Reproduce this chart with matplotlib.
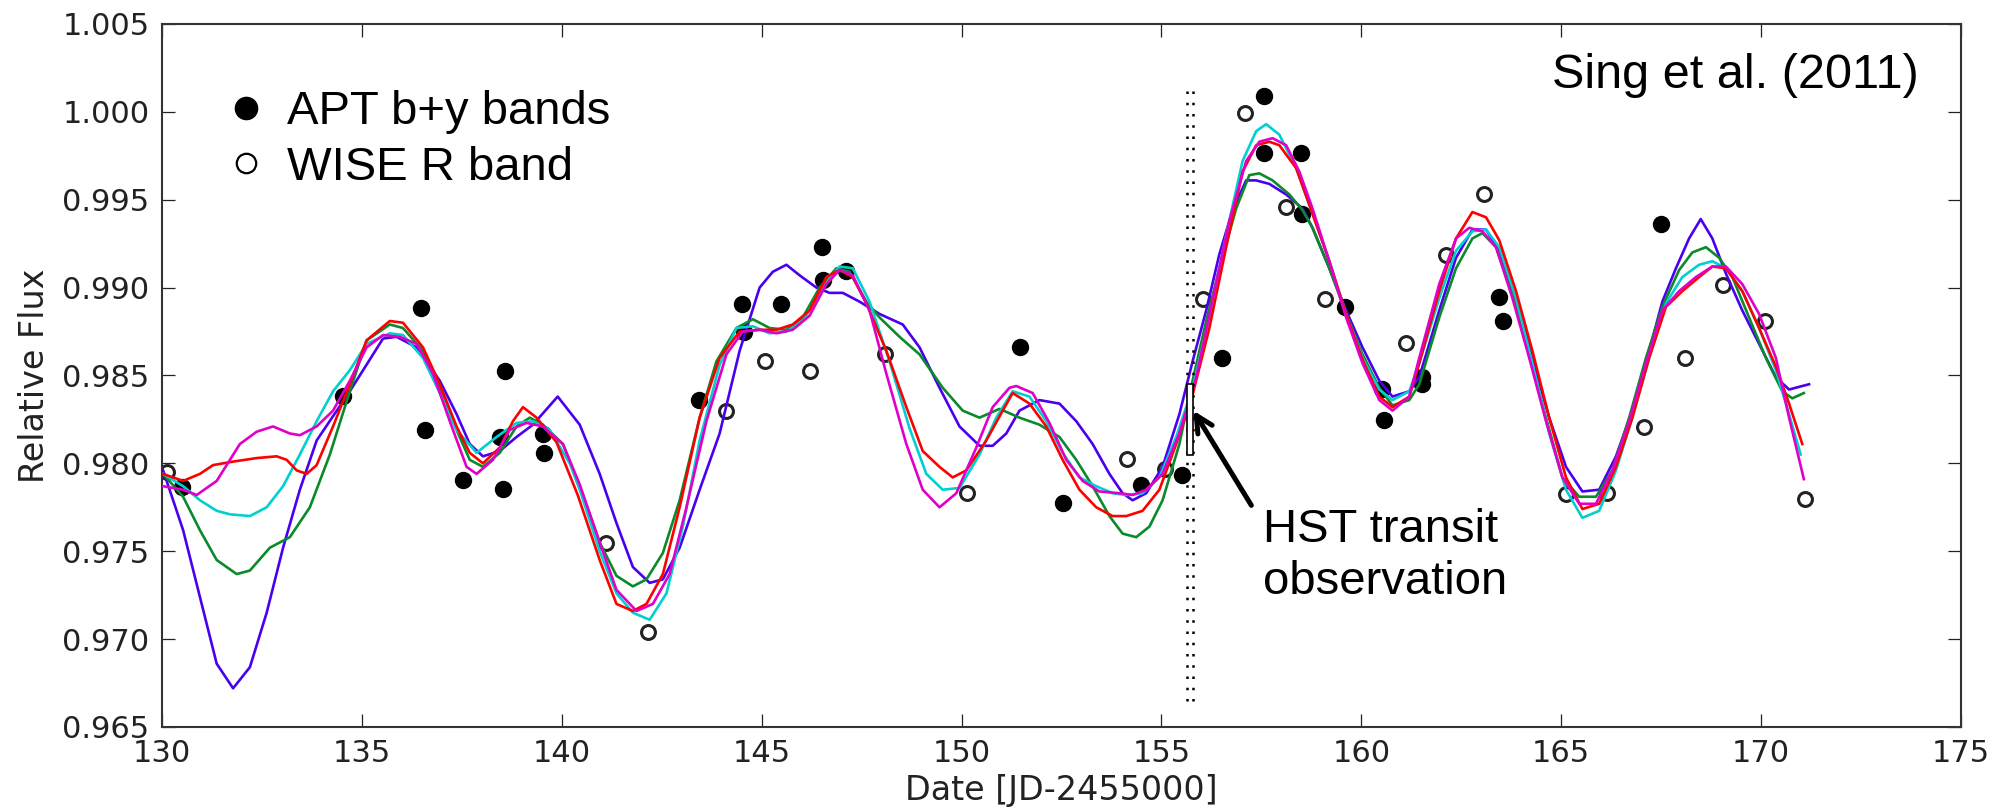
import matplotlib
matplotlib.use("Agg")
import matplotlib.pyplot as plt
from matplotlib.lines import Line2D
from matplotlib.patches import Rectangle

# ------------------------------------------
# Photometry
# ------------------------------------------
apt_x = [130.49, 134.53, 136.49, 136.58, 137.53, 138.45, 138.53, 138.58, 139.53, 139.56,
         143.43, 144.51, 144.56, 145.49, 146.51, 146.53, 147.12, 151.47, 152.53, 154.49,
         155.52, 156.51, 157.56, 157.56, 158.48, 158.51, 159.58, 160.51, 160.58, 161.53,
         161.53, 163.45, 163.55, 167.49]
apt_y = [0.97865, 0.98385, 0.98883, 0.98192, 0.97903, 0.98149, 0.97856, 0.98523, 0.98168, 0.98060,
         0.98361, 0.98906, 0.98745, 0.98906, 0.99233, 0.99042, 0.99095, 0.98660, 0.97774, 0.97875,
         0.97931, 0.98597, 1.00088, 0.99766, 0.99766, 0.99416, 0.98887, 0.98423, 0.98249, 0.98490,
         0.98452, 0.98944, 0.98811, 0.99360]

wise_x = [130.12, 141.12, 142.16, 144.12, 145.08, 146.20, 148.09, 150.13, 154.13, 155.08,
          156.05, 157.09, 158.12, 159.09, 161.13, 162.12, 163.08, 165.12, 166.14, 167.07,
          168.09, 169.05, 170.10, 171.10]
wise_y = [0.97950, 0.97547, 0.97042, 0.98300, 0.98584, 0.98523, 0.98622, 0.97831, 0.98026, 0.97969,
          0.98934, 0.99993, 0.99458, 0.98934, 0.98683, 0.99186, 0.99530, 0.97828, 0.97831, 0.98206,
          0.98597, 0.99014, 0.98811, 0.97799]

# ------------------------------------------
# Model curves (traced points)
# ------------------------------------------
blue_x = [130.03, 130.53, 130.95, 131.37, 131.78, 132.2, 132.62, 133.03, 133.45, 133.87,
          134.7, 135.53, 135.87, 136.37, 136.95, 137.37, 137.7, 138.03, 138.45, 138.87,
          139.28, 139.9, 140.45, 140.95, 141.37, 141.78, 142.2, 142.53, 142.95, 143.45,
          143.95, 144.45, 144.95, 145.28, 145.62, 145.95, 146.37, 146.7, 147.03, 147.45,
          147.95, 148.53, 148.95, 149.45, 149.95, 150.45, 150.78, 151.12, 151.45, 151.95,
          152.45, 152.87, 153.28, 153.7, 154.03, 154.28, 154.62, 155.03, 155.45, 155.78,
          156.12, 156.45, 156.78, 157.12, 157.37, 157.7, 158.12, 158.53, 158.78, 159.2,
          159.62, 160.03, 160.45, 160.78, 161.2, 161.45, 161.95, 162.37, 162.78, 163.12,
          163.45, 163.87, 164.28, 164.7, 165.12, 165.53, 165.95, 166.37, 166.78, 167.2,
          167.53, 167.87, 168.2, 168.49, 168.78, 169.12, 169.53, 169.95, 170.37, 170.7,
          171.03, 171.2]
blue_y = [0.9796, 0.9762, 0.9724, 0.9686, 0.9672, 0.9684, 0.9715, 0.9752, 0.9785, 0.9813,
          0.9841, 0.9871, 0.9872, 0.9866, 0.9847, 0.9828, 0.9811, 0.9804, 0.9807, 0.9815,
          0.9822, 0.9838, 0.9822, 0.9794, 0.9766, 0.9741, 0.9732, 0.9734, 0.9752, 0.9785,
          0.9817, 0.9864, 0.9900, 0.9909, 0.9913, 0.9907, 0.9900, 0.9897, 0.9897, 0.9892,
          0.9885, 0.9879, 0.9866, 0.9843, 0.9821, 0.9810, 0.9810, 0.9817, 0.9830, 0.9836,
          0.9834, 0.9824, 0.9811, 0.9794, 0.9783, 0.9779, 0.9783, 0.9798, 0.9828, 0.9858,
          0.9887, 0.9919, 0.9944, 0.9961, 0.9961, 0.9959, 0.9953, 0.9945, 0.9934, 0.9911,
          0.9887, 0.9866, 0.9847, 0.9838, 0.9841, 0.9849, 0.9887, 0.9917, 0.9933, 0.9933,
          0.9921, 0.9894, 0.9860, 0.9826, 0.9798, 0.9784, 0.9785, 0.9804, 0.9830, 0.9864,
          0.9892, 0.9911, 0.9928, 0.9939, 0.9928, 0.9908, 0.9887, 0.9868, 0.9849, 0.9842,
          0.9844, 0.9845]

green_x = [130.03, 130.53, 130.95, 131.37, 131.87, 132.2, 132.7, 133.2, 133.7, 134.2,
           134.7, 135.12, 135.7, 136.03, 136.53, 136.95, 137.37, 137.7, 138.03, 138.45,
           138.87, 139.2, 139.53, 140.03, 140.45, 140.95, 141.37, 141.78, 142.12, 142.53,
           142.95, 143.45, 143.87, 144.37, 144.78, 145.2, 145.62, 146.03, 146.45, 146.87,
           147.2, 147.62, 147.95, 148.45, 148.95, 149.53, 150.03, 150.45, 150.95, 151.45,
           151.95, 152.45, 152.87, 153.28, 153.7, 154.03, 154.37, 154.7, 155.03, 155.45,
           155.78, 156.12, 156.45, 156.87, 157.2, 157.45, 157.78, 158.2, 158.53, 158.78,
           159.2, 159.62, 160.03, 160.45, 160.78, 161.2, 161.45, 161.95, 162.37, 162.78,
           163.03, 163.37, 163.78, 164.2, 164.62, 165.03, 165.45, 165.87, 166.28, 166.7,
           167.12, 167.53, 167.95, 168.28, 168.62, 168.95, 169.28, 169.7, 170.12, 170.53,
           170.78, 171.07]
green_y = [0.9794, 0.9781, 0.9762, 0.9745, 0.9737, 0.9739, 0.9752, 0.9758, 0.9775, 0.9805,
           0.9841, 0.9870, 0.9879, 0.9877, 0.9864, 0.9842, 0.9819, 0.9802, 0.9798, 0.9806,
           0.9821, 0.9826, 0.9822, 0.9811, 0.9787, 0.9755, 0.9736, 0.9730, 0.9734, 0.9749,
           0.9779, 0.9826, 0.9858, 0.9877, 0.9882, 0.9877, 0.9876, 0.9883, 0.9900, 0.9911,
           0.9909, 0.9892, 0.9883, 0.9872, 0.9862, 0.9843, 0.9830, 0.9826, 0.9831, 0.9826,
           0.9822, 0.9815, 0.9802, 0.9787, 0.9770, 0.9760, 0.9758, 0.9764, 0.9779, 0.9811,
           0.9847, 0.9881, 0.9911, 0.9945, 0.9964, 0.9965, 0.9961, 0.9953, 0.9944, 0.9934,
           0.9911, 0.9885, 0.9862, 0.9843, 0.9833, 0.9836, 0.9845, 0.9883, 0.9911, 0.9928,
           0.9931, 0.9923, 0.9896, 0.9862, 0.9826, 0.9792, 0.9781, 0.9781, 0.9796, 0.9826,
           0.9860, 0.9889, 0.9910, 0.9920, 0.9923, 0.9917, 0.9906, 0.9883, 0.9860, 0.9841,
           0.9837, 0.9840]

red_x = [130.03, 130.53, 130.95, 131.28, 131.78, 132.37, 132.87, 133.12, 133.37, 133.62,
         133.87, 134.28, 134.7, 135.12, 135.7, 136.03, 136.53, 136.95, 137.37, 137.7,
         138.03, 138.45, 138.78, 139.03, 139.37, 139.87, 140.4, 140.95, 141.37, 141.78,
         142.12, 142.53, 142.95, 143.45, 143.95, 144.45, 144.95, 145.37, 145.78, 146.2,
         146.62, 146.95, 147.28, 147.62, 148.12, 148.62, 149.03, 149.45, 149.78, 150.12,
         150.62, 151.03, 151.28, 151.7, 152.12, 152.53, 152.95, 153.37, 153.78, 154.12,
         154.53, 154.95, 155.37, 155.78, 156.2, 156.62, 157.03, 157.37, 157.7, 157.95,
         158.37, 158.78, 159.2, 159.62, 160.03, 160.45, 160.78, 161.2, 161.45, 161.95,
         162.37, 162.78, 163.12, 163.45, 163.87, 164.28, 164.7, 165.12, 165.53, 165.95,
         166.37, 166.78, 167.2, 167.62, 168.03, 168.45, 168.78, 169.12, 169.53, 169.95,
         170.37, 170.7, 171.03]
red_y = [0.9794, 0.9790, 0.9794, 0.9799, 0.9801, 0.9803, 0.9804, 0.9802, 0.9796, 0.9794,
         0.9799, 0.9821, 0.9845, 0.9870, 0.9881, 0.9880, 0.9866, 0.9845, 0.9821, 0.9806,
         0.9800, 0.9809, 0.9824, 0.9832, 0.9826, 0.9812, 0.9782, 0.9745, 0.9720, 0.9716,
         0.9720, 0.9737, 0.9775, 0.9826, 0.9860, 0.9875, 0.9876, 0.9876, 0.9879, 0.9887,
         0.9906, 0.9910, 0.9906, 0.9891, 0.9864, 0.9832, 0.9807, 0.9798, 0.9792, 0.9796,
         0.9813, 0.9830, 0.9840, 0.9834, 0.9821, 0.9802, 0.9785, 0.9775, 0.9770, 0.9770,
         0.9773, 0.9785, 0.9811, 0.9839, 0.9877, 0.9923, 0.9966, 0.9981, 0.9983, 0.9981,
         0.9968, 0.9942, 0.9915, 0.9885, 0.9859, 0.9838, 0.9832, 0.9838, 0.9857, 0.9898,
         0.9928, 0.9943, 0.9940, 0.9927, 0.9898, 0.9864, 0.9826, 0.9792, 0.9774, 0.9777,
         0.9798, 0.9826, 0.9860, 0.9889, 0.9898, 0.9906, 0.9912, 0.9911, 0.9898, 0.9877,
         0.9855, 0.9834, 0.9811]

cyan_x = [130.03, 130.53, 130.95, 131.37, 131.7, 132.2, 132.62, 133.03, 133.45, 133.87,
          134.28, 134.7, 135.12, 135.7, 136.03, 136.53, 136.95, 137.37, 137.87, 138.37,
          138.87, 139.28, 139.7, 140.2, 140.45, 140.95, 141.37, 141.78, 142.2, 142.62,
          143.03, 143.45, 143.95, 144.37, 144.78, 145.2, 145.62, 146.03, 146.53, 146.95,
          147.28, 147.7, 148.2, 148.7, 149.12, 149.53, 149.95, 150.45, 150.87, 151.28,
          151.7, 152.12, 152.53, 152.95, 153.37, 153.78, 154.12, 154.53, 154.95, 155.37,
          155.78, 156.2, 156.62, 157.03, 157.37, 157.62, 157.95, 158.37, 158.78, 159.2,
          159.62, 160.03, 160.45, 160.78, 161.2, 161.45, 161.95, 162.37, 162.78, 163.12,
          163.45, 163.87, 164.28, 164.7, 165.12, 165.53, 165.95, 166.37, 166.78, 167.2,
          167.62, 168.03, 168.45, 168.78, 169.12, 169.53, 169.95, 170.37, 170.7, 170.99]
cyan_y = [0.9794, 0.9787, 0.9779, 0.9773, 0.9771, 0.9770, 0.9775, 0.9787, 0.9805, 0.9824,
          0.9841, 0.9853, 0.9868, 0.9874, 0.9873, 0.9860, 0.9840, 0.9819, 0.9806, 0.9815,
          0.9823, 0.9824, 0.9819, 0.9800, 0.9785, 0.9750, 0.9726, 0.9715, 0.9711, 0.9726,
          0.9764, 0.9813, 0.9856, 0.9877, 0.9878, 0.9874, 0.9875, 0.9881, 0.9900, 0.9912,
          0.9911, 0.9892, 0.9858, 0.9820, 0.9794, 0.9785, 0.9786, 0.9805, 0.9826, 0.9841,
          0.9838, 0.9824, 0.9806, 0.9792, 0.9787, 0.9783, 0.9782, 0.9783, 0.9792, 0.9815,
          0.9843, 0.9883, 0.9930, 0.9972, 0.9989, 0.9993, 0.9987, 0.9968, 0.9942, 0.9915,
          0.9885, 0.9860, 0.9842, 0.9836, 0.9841, 0.9857, 0.9894, 0.9921, 0.9932, 0.9933,
          0.9923, 0.9894, 0.9857, 0.9817, 0.9785, 0.9769, 0.9773, 0.9796, 0.9826, 0.9860,
          0.9891, 0.9906, 0.9913, 0.9915, 0.9911, 0.9898, 0.9877, 0.9853, 0.9828, 0.9805]

magenta_x = [130.03, 130.53, 130.87, 131.37, 131.95, 132.37, 132.78, 133.2, 133.45, 133.87,
             134.28, 134.7, 135.12, 135.53, 135.95, 136.37, 136.78, 137.2, 137.62, 137.87,
             138.28, 138.7, 139.12, 139.53, 140.03, 140.45, 140.95, 141.37, 141.87, 142.28,
             142.7, 143.12, 143.62, 144.12, 144.53, 144.95, 145.37, 145.78, 146.2, 146.62,
             146.95, 147.28, 147.7, 148.12, 148.62, 149.03, 149.45, 149.87, 150.37, 150.78,
             151.2, 151.37, 151.78, 152.2, 152.62, 153.03, 153.45, 153.95, 154.28, 154.62,
             155.03, 155.45, 155.87, 156.28, 156.7, 157.12, 157.45, 157.78, 158.12, 158.45,
             158.78, 159.2, 159.62, 160.03, 160.45, 160.78, 161.2, 161.45, 161.95, 162.37,
             162.7, 163.03, 163.37, 163.78, 164.2, 164.62, 165.03, 165.45, 165.87, 166.28,
             166.7, 167.12, 167.53, 167.95, 168.37, 168.78, 169.12, 169.53, 169.95, 170.37,
             170.7, 171.07]
magenta_y = [0.9787, 0.9785, 0.9782, 0.9790, 0.9811, 0.9818, 0.9821, 0.9817, 0.9816, 0.9821,
             0.9830, 0.9847, 0.9866, 0.9873, 0.9872, 0.9868, 0.9851, 0.9824, 0.9798, 0.9794,
             0.9802, 0.9819, 0.9823, 0.9821, 0.9811, 0.9788, 0.9755, 0.9728, 0.9716, 0.9720,
             0.9737, 0.9775, 0.9824, 0.9862, 0.9875, 0.9876, 0.9874, 0.9876, 0.9884, 0.9902,
             0.9910, 0.9907, 0.9887, 0.9851, 0.9811, 0.9785, 0.9775, 0.9783, 0.9809, 0.9832,
             0.9843, 0.9844, 0.9840, 0.9823, 0.9802, 0.9790, 0.9784, 0.9783, 0.9782, 0.9785,
             0.9794, 0.9817, 0.9849, 0.9893, 0.9938, 0.9972, 0.9983, 0.9985, 0.9981, 0.9966,
             0.9945, 0.9915, 0.9883, 0.9857, 0.9836, 0.9830, 0.9838, 0.9860, 0.9902, 0.9928,
             0.9934, 0.9932, 0.9923, 0.9894, 0.9860, 0.9824, 0.9792, 0.9777, 0.9777, 0.9796,
             0.9824, 0.9857, 0.9887, 0.9898, 0.9906, 0.9912, 0.9912, 0.9902, 0.9885, 0.9860,
             0.9826, 0.9791]

curves = [
    (blue_x, blue_y, "#4a00f0"),
    (green_x, green_y, "#0a8a2a"),
    (cyan_x, cyan_y, "#00d0d0"),
    (red_x, red_y, "#ff0000"),
    (magenta_x, magenta_y, "#e000c8"),
]

# HST transit window
hst_t0, hst_t1 = 155.64, 155.80

# ------------------------------------------
# Plot
# ------------------------------------------
plt.rcParams["font.family"] = ["DejaVu Sans"]
label_font = ["Liberation Sans", "DejaVu Sans"]

fig = plt.figure(figsize=(20.09, 8.10), dpi=100)
ax = fig.add_axes([0.0806, 0.1025, 0.8955, 0.8679])

ax.plot(apt_x, apt_y, "o", color="black", ms=11.5, zorder=2)
ax.plot(wise_x, wise_y, "o", mfc="none", mec="#222222", mew=2.2, ms=10, zorder=2)

for cx, cy, col in curves:
    ax.plot(cx, cy, "-", color=col, lw=1.9, zorder=3)

# transit markers: dotted lines + small box
for t in (hst_t0, hst_t1):
    ax.plot([t, t], [0.9665, 1.0015], color="black", lw=1.8,
            linestyle=(0, (1, 3.5)), zorder=4)
ax.add_patch(Rectangle((hst_t0, 0.9805), hst_t1 - hst_t0, 0.0040,
                       facecolor="white", edgecolor="black", lw=1.2, zorder=5))

ax.annotate("", xy=(hst_t1, 0.9830), xytext=(157.25, 0.97761),
            arrowprops=dict(arrowstyle="->", lw=3.6, color="black",
                            mutation_scale=30, shrinkA=0, shrinkB=0),
            zorder=6)
ax.text(157.53, 0.97745, "HST transit\nobservation", fontsize=34, family=label_font,
        ha="left", va="top", linespacing=1.22)

ax.text(0.9767, 0.909, "Sing et al. (2011)", transform=ax.transAxes,
        fontsize=35, family=label_font, ha="right", va="baseline")

handles = [
    Line2D([], [], ls="none", marker="o", color="black", ms=16),
    Line2D([], [], ls="none", marker="o", mfc="none", mec="black", mew=1.6, ms=14),
]
ax.legend(handles, ["APT b+y bands", "WISE R band"], loc="upper left",
          bbox_to_anchor=(0.0334, 0.906), frameon=False, borderaxespad=0, borderpad=0,
          handlelength=1.0, handletextpad=0.37, labelspacing=0.25,
          prop={"family": label_font, "size": 34})

ax.set_xlim(130, 175)
ax.set_ylim(0.965, 1.005)
ax.set_xticks([130, 135, 140, 145, 150, 155, 160, 165, 170, 175])
ax.set_yticks([0.965, 0.970, 0.975, 0.980, 0.985, 0.990, 0.995, 1.000, 1.005])
ax.yaxis.set_major_formatter(plt.FormatStrFormatter("%.3f"))
ax.tick_params(direction="in", top=True, right=True, length=9.5, width=0.9,
               labelsize=22, pad=9, colors="#222222")
for s in ax.spines.values():
    s.set_linewidth(1.5)
    s.set_color("#333333")

ax.set_xlabel("Date [JD-2455000]", fontsize=24, color="#222222", labelpad=4)
ax.set_ylabel("Relative Flux", fontsize=24, color="#222222", labelpad=8)

fig.savefig("out.png", dpi=100)
